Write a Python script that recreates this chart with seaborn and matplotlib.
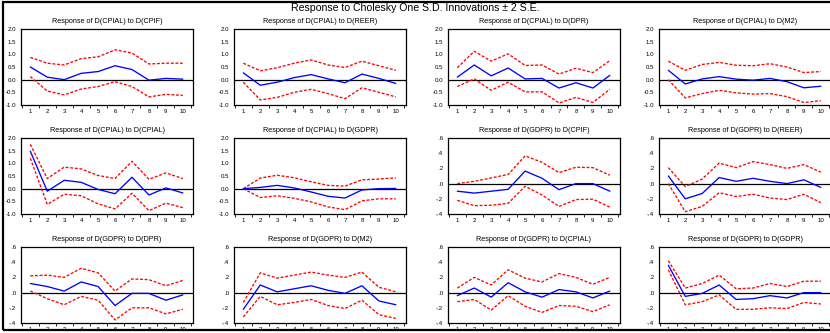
import numpy as np
import pandas as pd
import matplotlib
matplotlib.use("Agg")
import matplotlib.pyplot as plt
from matplotlib.patches import Rectangle
from matplotlib.ticker import FixedLocator
import seaborn as sns

sns.set_style("white")
plt.rcParams['font.family'] = ['Liberation Sans', 'DejaVu Sans']

periods = list(range(1, 11))
x_labels = [str(p) for p in periods]

main_title = "Response to Cholesky One S.D. Innovations \u00b1 2 S.E."

titles = [
    "Response of D(CPIAL) to D(CPIF)",
    "Response of D(CPIAL) to D(REER)",
    "Response of D(CPIAL) to D(DPR)",
    "Response of D(CPIAL) to D(M2)",
    "Response of D(CPIAL) to D(CPIAL)",
    "Response of D(CPIAL) to D(GDPR)",
    "Response of D(GDPR) to D(CPIF)",
    "Response of D(GDPR) to D(REER)",
    "Response of D(GDPR) to D(DPR)",
    "Response of D(GDPR) to D(M2)",
    "Response of D(GDPR) to D(CPIAL)",
    "Response of D(GDPR) to D(GDPR)",
]

# central responses
resp = [
    [0.50, 0.10, 0.00, 0.25, 0.32, 0.55, 0.40, -0.02, 0.05, 0.02],
    [0.27, -0.22, -0.10, 0.08, 0.20, 0.03, -0.12, 0.22, 0.05, -0.15],
    [0.10, 0.58, 0.15, 0.46, 0.03, 0.05, -0.33, -0.12, -0.33, 0.17],
    [0.37, -0.17, 0.03, 0.12, 0.02, -0.02, 0.05, -0.08, -0.32, -0.26],
    [1.48, -0.10, 0.33, 0.25, -0.03, -0.20, 0.45, -0.25, 0.03, -0.17],
    [0.00, 0.05, 0.13, 0.03, -0.13, -0.30, -0.37, -0.05, 0.00, 0.01],
    [-0.10, -0.125, -0.10, -0.075, 0.165, 0.07, -0.08, 0.00, 0.00, -0.10],
    [0.10, -0.20, -0.13, 0.08, 0.03, 0.07, 0.03, 0.00, 0.05, -0.05],
    [0.12, 0.08, 0.02, 0.14, 0.08, -0.17, -0.01, -0.01, -0.10, -0.03],
    [-0.22, 0.10, 0.01, 0.05, 0.09, 0.03, -0.01, 0.09, -0.11, -0.16],
    [-0.04, 0.06, -0.06, 0.13, 0.01, -0.06, 0.04, 0.01, -0.07, 0.02],
    [0.36, -0.05, -0.01, 0.10, -0.09, -0.08, -0.04, -0.07, 0.00, 0.00],
]

# upper band (+2 S.E.)
upper = [
    [0.88, 0.65, 0.58, 0.83, 0.90, 1.18, 1.05, 0.62, 0.65, 0.65],
    [0.65, 0.35, 0.47, 0.65, 0.78, 0.58, 0.48, 0.73, 0.55, 0.37],
    [0.47, 1.12, 0.73, 1.02, 0.56, 0.58, 0.22, 0.45, 0.28, 0.75],
    [0.73, 0.37, 0.60, 0.68, 0.57, 0.55, 0.63, 0.50, 0.28, 0.32],
    [1.75, 0.40, 0.85, 0.78, 0.52, 0.40, 1.08, 0.37, 0.62, 0.40],
    [0.00, 0.42, 0.53, 0.43, 0.27, 0.13, 0.10, 0.35, 0.38, 0.43],
    [0.00, 0.03, 0.075, 0.12, 0.365, 0.28, 0.145, 0.215, 0.21, 0.11],
    [0.21, -0.04, 0.06, 0.27, 0.21, 0.29, 0.25, 0.20, 0.25, 0.15],
    [0.22, 0.23, 0.20, 0.32, 0.26, 0.02, 0.18, 0.17, 0.09, 0.16],
    [-0.13, 0.26, 0.19, 0.23, 0.27, 0.23, 0.20, 0.27, 0.07, 0.01],
    [0.06, 0.20, 0.10, 0.30, 0.19, 0.14, 0.25, 0.20, 0.11, 0.20],
    [0.42, 0.06, 0.12, 0.23, 0.05, 0.06, 0.12, 0.08, 0.15, 0.15],
]

# lower band (-2 S.E.)
lower = [
    [0.12, -0.45, -0.60, -0.37, -0.27, -0.08, -0.27, -0.68, -0.58, -0.62],
    [-0.10, -0.80, -0.70, -0.50, -0.38, -0.55, -0.75, -0.32, -0.50, -0.68],
    [-0.27, 0.03, -0.42, -0.10, -0.48, -0.48, -0.92, -0.70, -0.90, -0.38],
    [0.00, -0.72, -0.55, -0.42, -0.52, -0.57, -0.55, -0.67, -0.90, -0.83],
    [1.20, -0.62, -0.22, -0.28, -0.60, -0.80, -0.18, -0.87, -0.57, -0.75],
    [0.00, -0.35, -0.28, -0.38, -0.52, -0.72, -0.83, -0.48, -0.40, -0.40],
    [-0.22, -0.29, -0.285, -0.26, -0.035, -0.15, -0.30, -0.21, -0.205, -0.31],
    [0.00, -0.37, -0.30, -0.12, -0.17, -0.14, -0.19, -0.21, -0.14, -0.25],
    [0.02, -0.08, -0.16, -0.05, -0.10, -0.36, -0.20, -0.20, -0.28, -0.22],
    [-0.32, -0.05, -0.16, -0.13, -0.09, -0.17, -0.21, -0.10, -0.29, -0.34],
    [-0.12, -0.09, -0.23, -0.04, -0.18, -0.26, -0.17, -0.18, -0.25, -0.16],
    [0.30, -0.16, -0.12, -0.03, -0.22, -0.22, -0.20, -0.21, -0.13, -0.15],
]

cpial_ticks = [-1.0, -0.5, 0.0, 0.5, 1.0, 1.5, 2.0]
cpial_labels = ["-1.0", "-0.5", "0.0", "0.5", "1.0", "1.5", "2.0"]
gdpr_ticks = [-0.4, -0.2, 0.0, 0.2, 0.4, 0.6]
gdpr_labels = ["-.4", "-.2", ".0", ".2", ".4", ".6"]

W, H = 830, 333
fig = plt.figure(figsize=(W / 100, H / 100), dpi=100)

# outer frame
fig.add_artist(Rectangle((3 / W, 3 / H), 1.2, 1 - 5 / H, transform=fig.transFigure,
                         fill=False, edgecolor="black", linewidth=1.6, clip_on=False))

fig.text(0.5, 1 - 8 / H, main_title, ha="center", va="center", fontsize=7.6, color="black")

col_left = [21, 234, 448, 659]
row_top = [29, 138, 247]
aw, ah = 172, 76

for i in range(12):
    r, c = divmod(i, 4)
    ax = fig.add_axes([col_left[c] / W, 1 - (row_top[r] + ah) / H, aw / W, ah / H])
    df = pd.DataFrame({
        "period": periods * 3,
        "value": resp[i] + upper[i] + lower[i],
        "band": ["resp"] * 10 + ["up"] * 10 + ["lo"] * 10,
    })
    ax.axhline(0, color="black", linewidth=0.9, zorder=1)
    sns.lineplot(data=df[df.band == "resp"], x="period", y="value", ax=ax,
                 color="#0000FF", linewidth=0.95, zorder=3)
    for b in ["up", "lo"]:
        sns.lineplot(data=df[df.band == b], x="period", y="value", ax=ax,
                     color="#FF0000", linewidth=0.95, linestyle=(0, (2.2, 1.3)), zorder=2)
    ax.set_xlim(0.45, 10.6)
    if i < 6:
        ax.set_ylim(-1.0, 2.0)
        ax.set_yticks(cpial_ticks)
        ax.set_yticklabels(cpial_labels)
    else:
        ax.set_ylim(-0.4, 0.6)
        ax.set_yticks(gdpr_ticks)
        ax.set_yticklabels(gdpr_labels)
    ax.set_xticks(periods)
    ax.set_xticklabels(x_labels)
    ax.xaxis.set_minor_locator(FixedLocator([p + 0.5 for p in range(0, 11)]))
    ax.tick_params(axis="both", which="major", direction="out", length=2, width=0.6,
                   labelsize=4.4, pad=1.5, color="black", labelcolor="black")
    ax.tick_params(axis="x", which="minor", direction="out", length=2, width=0.6,
                   bottom=True, color="black")
    ax.tick_params(axis="x", which="major", length=0, pad=3)
    ax.set_xlabel("")
    ax.set_ylabel("")
    ax.set_title(titles[i], fontsize=5.2, pad=4, color="black")
    for s in ax.spines.values():
        s.set_visible(True)
        s.set_color("black")
        s.set_linewidth(0.9)

fig.savefig("out.png", dpi=100)
